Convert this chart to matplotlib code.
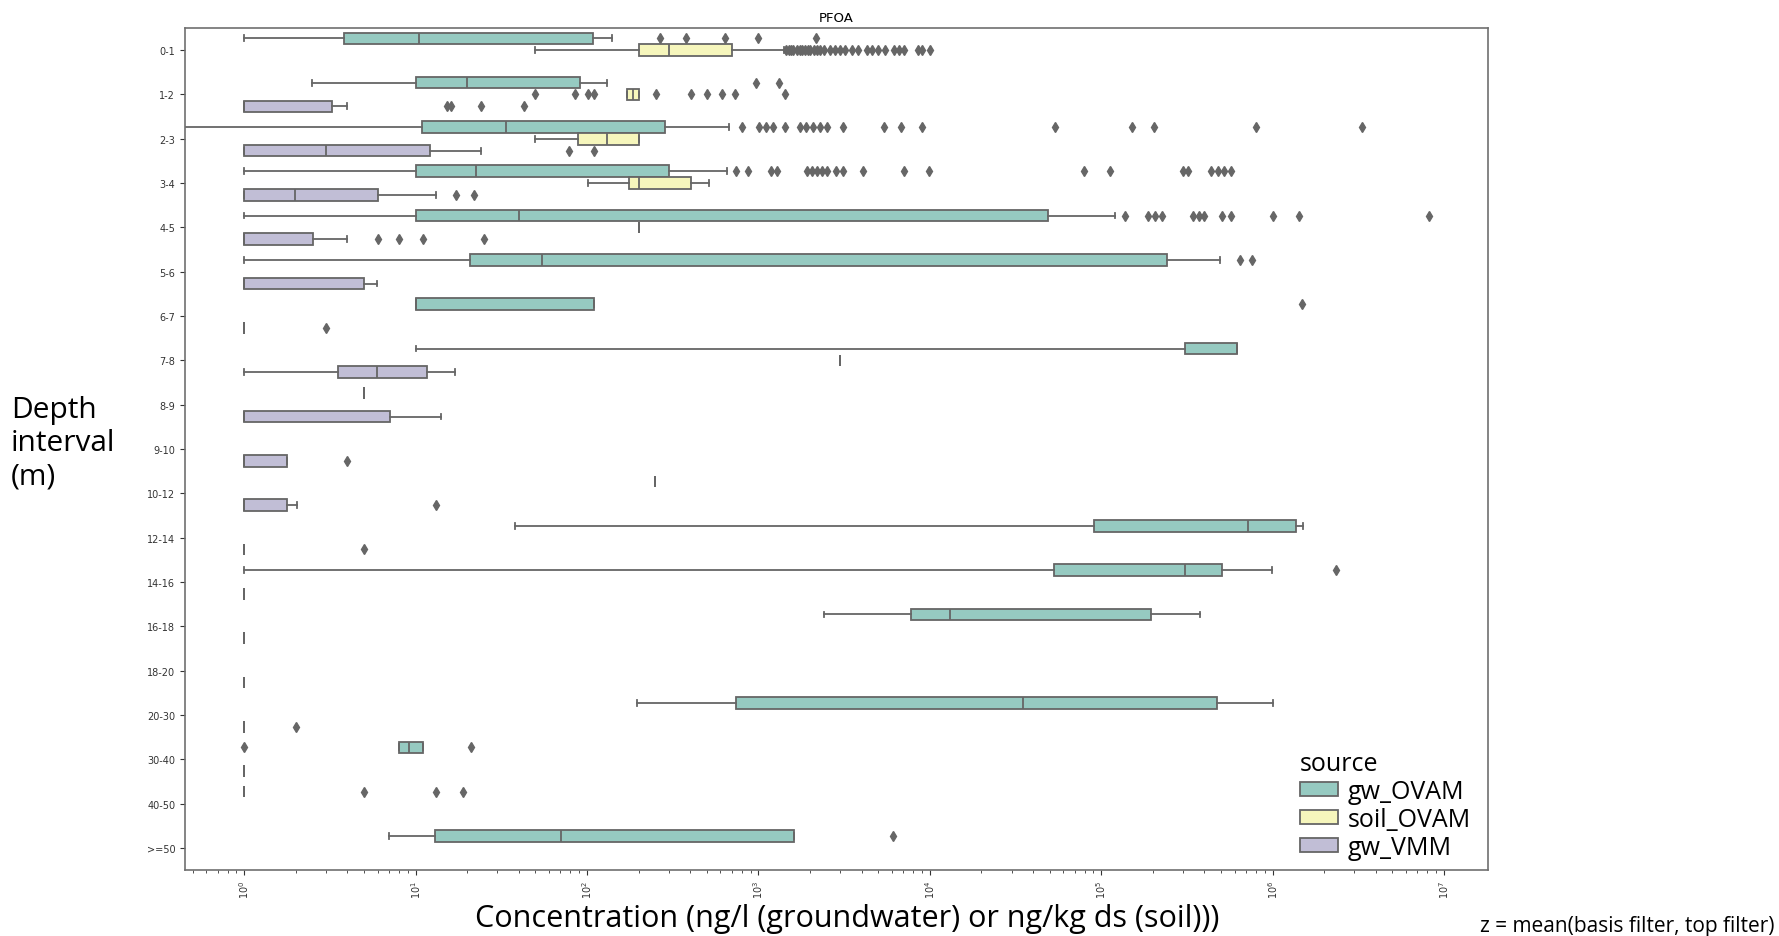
import colorsys
import numpy as np
import matplotlib
matplotlib.use("Agg")
from matplotlib import pyplot as plt
from matplotlib.patches import Patch


## data
depths = ['0-1', '1-2', '2-3', '3-4', '4-5', '5-6', '6-7', '7-8', '8-9', '9-10',
          '10-12', '12-14', '14-16', '16-18', '18-20', '20-30', '30-40', '40-50', '>=50']
sources = ['gw_OVAM', 'soil_OVAM', 'gw_VMM']

# per depth: (lower whisker, q1, median, q3, upper whisker)
gwOvamStats = {
    '0-1': (1, 3.8, 10.4, 108, 139),
    '1-2': (2.5, 10, 20, 91, 131),
    '2-3': (0, 10.9, 33.7, 285, 675),
    '3-4': (1, 10, 22.6, 299, 655),
    '4-5': (1, 10, 39.9, 48800, 120000),
    '5-6': (1, 20.7, 54.5, 243000, 490000),
    '6-7': (10, 10, 10, 110, 110),
    '7-8': (10, 307000, 624000, 624000, 624000),
    '8-9': (5, 5, 5, 5, 5),
    '10-12': (250, 250, 250, 250, 250),
    '12-14': (38.2, 90500, 716000, 1375000, 1500000),
    '14-16': (1, 52700, 307000, 508000, 995000),
    '16-18': (2400, 7740, 13100, 195000, 375000),
    '20-30': (196, 743, 35000, 476000, 1010000),
    '30-40': (8.0, 8.0, 9.1, 11.1, 11.1),
    '40-50': (1, 1, 1, 1, 1),
    '>=50': (7.0, 13.0, 70.5, 1620, 1620),
}
gwOvamFliers = {
    '0-1': [267, 377, 636, 1000, 2170],
    '1-2': [973, 1310],
    '2-3': [798, 1010, 1110, 1210, 1430, 1740, 1900, 2090, 2290, 2510, 3130,
            5380, 6750, 9060, 53400, 151000, 203000, 802000, 3340000],
    '3-4': [743, 873, 1180, 1290, 1920, 2050, 2200, 2350, 2510, 2830, 3100, 4055,
            7040, 9900, 79800, 112000, 300000, 322000, 435000, 480000, 520000, 570000],
    '4-5': [138000, 188000, 205000, 225000, 342000, 370000, 400000, 506000,
            570000, 1000000, 1420000, 8150000],
    '5-6': [642000, 755000],
    '6-7': [1490000],
    '14-16': [2330000],
    '30-40': [1, 21.1],
    '40-50': [5.0, 13.1, 19.0],
    '>=50': [6070],
}

soilOvamStats = {
    '0-1': (50, 200, 301, 700, 1410),
    '1-2': (171, 171, 185, 201, 201),
    '2-3': (50, 88, 130, 201, 201),
    '3-4': (101, 175, 201, 403, 512),
    '4-5': (200, 200, 200, 200, 200),
    '7-8': (3000, 3000, 3000, 3000, 3000),
}
soilOvamFliers = {
    '0-1': [1450, 1500, 1550, 1600, 1680, 1750, 1800, 1870, 1950, 2000, 2100, 2200,
            2300, 2400, 2600, 2800, 3000, 3200, 3500, 3800, 4300, 4600, 5000, 5500,
            6200, 6600, 7100, 8500, 9000, 10000],
    '1-2': [50, 85.5, 101, 110, 253, 403, 502, 610, 730, 1420],
}

gwVmmStats = {
    '1-2': (1, 1, 1, 3.26, 4.0),
    '2-3': (1, 1, 3.01, 12.1, 24.0),
    '3-4': (1, 1, 1.99, 6.0, 13.1),
    '4-5': (1, 1, 1, 2.52, 4.0),
    '5-6': (1, 1, 1, 4.98, 5.97),
    '6-7': (1, 1, 1, 1, 1),
    '7-8': (1, 3.52, 5.97, 11.6, 17.0),
    '8-9': (1, 1, 1, 7.06, 14.1),
    '9-10': (1, 1, 1, 1.77, 1.77),
    '10-12': (1, 1, 1, 1.77, 2.02),
    '12-14': (1, 1, 1, 1, 1),
    '14-16': (1, 1, 1, 1, 1),
    '16-18': (1, 1, 1, 1, 1),
    '18-20': (1, 1, 1, 1, 1),
    '20-30': (1, 1, 1, 1, 1),
    '30-40': (1, 1, 1, 1, 1),
}
gwVmmFliers = {
    '1-2': [15.3, 16.0, 24.1, 43.1],
    '2-3': [78, 110],
    '3-4': [17.2, 22.0],
    '4-5': [6.0, 8.05, 11.1, 25.1],
    '6-7': [3.0],
    '9-10': [4.0],
    '10-12': [13.1],
    '12-14': [5.0],
    '20-30': [2.0],
}


## styling
def desaturate(hexColor, prop):
    r, g, b = matplotlib.colors.to_rgb(hexColor)
    h, l, s = colorsys.rgb_to_hls(r, g, b)
    return colorsys.hls_to_rgb(h, l, s*prop)

baseColors = ['#8dd3c7', '#ffffb3', '#bebada']          # Set3
colors = [desaturate(c, 0.75) for c in baseColors]
gray = '#666666'
lw = 1.3
hueWidth = 0.8/len(sources)
offsets = [-hueWidth, 0.0, hueWidth]

labelFont = 'Open Sans'


## figure
fig = plt.figure(figsize=(17.79, 9.37), dpi=100)
ax = fig.add_axes([185/1779, 1-871/937, (1488-185)/1779, (871-29)/937])
ax.set_xscale('log')

allStats = [gwOvamStats, soilOvamStats, gwVmmStats]
allFliers = [gwOvamFliers, soilOvamFliers, gwVmmFliers]

for ind, src in enumerate(sources):
    stats = []
    positions = []
    for depthInd, depth in enumerate(depths):
        if depth not in allStats[ind]:
            continue
        lo, q1, med, q3, hi = allStats[ind][depth]
        stats.append(dict(whislo=lo, q1=q1, med=med, q3=q3, whishi=hi,
                          fliers=np.array(allFliers[ind].get(depth, []), dtype=float)))
        positions.append(depthInd + offsets[ind])
    ax.bxp(stats, positions=positions, widths=hueWidth*0.98, orientation='horizontal',
           patch_artist=True, manage_ticks=False,
           boxprops=dict(facecolor=colors[ind], edgecolor=gray, linewidth=lw),
           whiskerprops=dict(color=gray, linewidth=lw),
           capprops=dict(color=gray, linewidth=lw),
           medianprops=dict(color=gray, linewidth=lw),
           flierprops=dict(marker='d', markersize=5, markerfacecolor=gray,
                           markeredgecolor=gray, linestyle='none'))

# log-space limits with 5% margin around the positive data
positiveVals = [v for d in allStats for s in d.values() for v in s if v > 0]
positiveVals += [v for d in allFliers for f in d.values() for v in f if v > 0]
logMin, logMax = np.log10(min(positiveVals)), np.log10(max(positiveVals))
pad = 0.05*(logMax - logMin)
ax.set_xlim(10**(logMin - pad), 10**(logMax + pad))
ax.set_ylim(len(depths) - 0.5, -0.5)

ax.set_yticks(np.arange(len(depths)))
ax.set_yticklabels(depths)
ax.tick_params(axis='y', labelsize=7, colors='#333333')
ax.tick_params(axis='x', which='both', labelsize=7, labelrotation=90, colors='#333333')
for spine in ax.spines.values():
    spine.set_color('#707070')
    spine.set_linewidth(1.2)
ax.set_title('PFOA', fontsize=9.5, pad=5)

# legend
handles = [Patch(facecolor=colors[i], edgecolor=gray, linewidth=lw, label=sources[i])
           for i in range(len(sources))]
leg = fig.legend(handles=handles, title='source', loc='upper left',
                 bbox_to_anchor=(1300/1779, 1-752/937), frameon=False,
                 borderpad=0, borderaxespad=0, alignment='left',
                 prop=dict(family=labelFont, size=18),
                 handlelength=1.5, handleheight=0.52, handletextpad=0.42, labelspacing=0.12)
leg.get_title().set_fontfamily(labelFont)
leg.get_title().set_fontsize(18)

# axis labels
fig.text(11/1779, 1-444/937, 'Depth\ninterval\n(m)', ha='left', va='center',
         family=labelFont, fontsize=21.5, linespacing=1.2)
fig.text(847/1779, 1-919/937, 'Concentration (ng/l (groundwater) or ng/kg ds (soil)))',
         ha='center', va='center', family=labelFont, fontsize=22)
fig.text(1774/1779, 1-927/937, 'z = mean(basis filter, top filter)',
         ha='right', va='center', family=labelFont, fontsize=15)

fig.savefig('out.png', dpi=100)
